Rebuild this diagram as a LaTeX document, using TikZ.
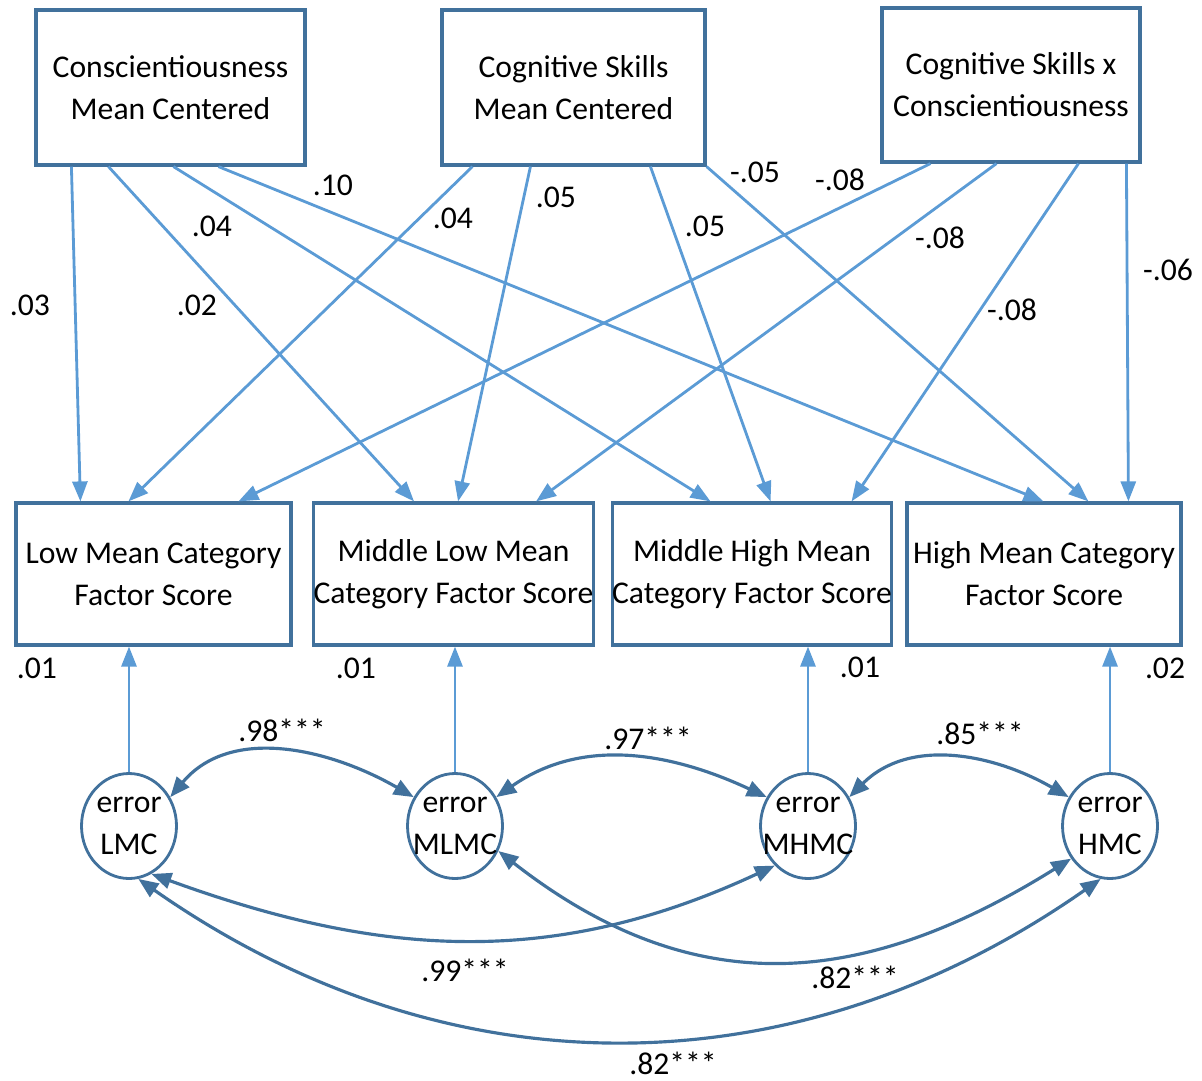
\documentclass[tikz,border=0pt]{standalone}
\usepackage{fontspec}
\setmainfont{Carlito}
\usetikzlibrary{arrows.meta, shapes.geometric}
\definecolor{pathblue}{RGB}{91,155,213}
\definecolor{edgeblue}{RGB}{65,113,156}

\begin{document}
\begin{tikzpicture}[
	box/.style={draw=edgeblue, line width=0.9pt, rectangle, align=center, inner sep=0pt, font=\fontsize{9}{12}\selectfont},
	err/.style={draw=edgeblue, line width=0.8pt, ellipse, minimum width=0.95cm, minimum height=1.05cm, inner sep=0pt},
	errtxt/.style={align=center, inner sep=0pt, font=\fontsize{9}{12}\selectfont},
	reg/.style={color=pathblue, line width=0.8pt, -{Triangle[length=0.2cm, width=0.15cm]}},
	cov/.style={color=edgeblue, line width=0.9pt, {Triangle[length=0.2cm, width=0.16cm]}-{Triangle[length=0.2cm, width=0.16cm]}},
	wt/.style={font=\fontsize{9}{12}\selectfont, inner sep=0pt}
	]
	\useasboundingbox (0, 0) rectangle (12.02, -10.8);
	% Boxes and error terms:
	\node[box, minimum width=2.69cm, minimum height=1.55cm] (A) at (1.705, -0.875) {Conscientiousness\\Mean Centered};
	\node[box, minimum width=2.63cm, minimum height=1.55cm] (B) at (5.735, -0.875) {Cognitive Skills\\Mean Centered};
	\node[box, minimum width=2.58cm, minimum height=1.54cm] (C) at (10.11, -0.85) {Cognitive Skills x\\Conscientiousness};
	\node[box, minimum width=2.75cm, minimum height=1.42cm] (L) at (1.535, -5.74) {Low Mean Category\\Factor Score};
	\node[box, minimum width=2.75cm, minimum height=1.42cm] (ML) at (4.535, -5.74) {Middle Low Mean\\Category Factor Score};
	\node[box, minimum width=2.74cm, minimum height=1.42cm] (MH) at (7.52, -5.74) {Middle High Mean\\Category Factor Score};
	\node[box, minimum width=2.74cm, minimum height=1.42cm] (H) at (10.44, -5.74) {High Mean Category\\Factor Score};
	\node[err, label={[errtxt]center:error\\LMC}] (eL) at (1.29, -8.26) {};
	\node[err, label={[errtxt]center:error\\MLMC}] (eML) at (4.55, -8.26) {};
	\node[err, label={[errtxt]center:error\\MHMC}] (eMH) at (8.08, -8.26) {};
	\node[err, label={[errtxt]center:error\\HMC}] (eH) at (11.10, -8.26) {};
	% Paths:
	\draw[reg] ([xshift=0.37cm]A.south west) -- ([xshift=0.66cm]L.north west);
	\draw[reg] ([xshift=0.74cm]A.south west) -- ([xshift=1.02cm]ML.north west);
	\draw[reg] ([xshift=1.39cm]A.south west) -- ([xshift=1.00cm]MH.north west);
	\draw[reg] ([xshift=1.84cm]A.south west) -- ([xshift=1.38cm]H.north west);
	\draw[reg] ([xshift=0.32cm]B.south west) -- ([xshift=1.14cm]L.north west);
	\draw[reg] ([xshift=0.90cm]B.south west) -- ([xshift=1.46cm]ML.north west);
	\draw[reg] ([xshift=2.10cm]B.south west) -- ([xshift=1.60cm]MH.north west);
	\draw[reg] (B.south east) -- ([xshift=1.83cm]H.north west);
	\draw[reg] ([xshift=0.50cm]C.south west) -- ([xshift=2.24cm]L.north west);
	\draw[reg] ([xshift=1.16cm]C.south west) -- ([xshift=2.24cm]ML.north west);
	\draw[reg] ([xshift=1.98cm]C.south west) -- ([xshift=2.41cm]MH.north west);
	\draw[reg] ([xshift=2.46cm]C.south west) -- ([xshift=2.23cm]H.north west);
	\draw[reg] (eL.north) -- (eL.north |- L.south);
	\draw[reg] (eML.north) -- (eML.north |- ML.south);
	\draw[reg] (eMH.north) -- (eMH.north |- MH.south);
	\draw[reg] (eH.north) -- (eH.north |- H.south);
	% Covariances:
	\draw[cov] (eL.35) to[out=50, in=150] (eML.145);
	\draw[cov] (eML.35) to[out=35, in=155] (eMH.145);
	\draw[cov] (eMH.35) to[out=45, in=150] (eH.145);
	\draw[cov] (eL.-65) to[out=-20, in=-155] (eMH.-130);
	\draw[cov] (eML.-30) to[out=-38, in=-148, looseness=1.1] (eH.-140);
	\draw[cov] (eL.-80) to[out=-35, in=-145] (eH.-100);
	% Weights:
	\node[wt] (w1) at (0.30, -3.05) {.03};
	\node[wt] (w2) at (1.97, -3.05) {.02};
	\node[wt] (w3) at (2.12, -2.26) {.04};
	\node[wt] (w4) at (3.33, -1.85) {.10};
	\node[wt] (w5) at (4.53, -2.18) {.04};
	\node[wt] (w6) at (5.56, -1.97) {.05};
	\node[wt] (w7) at (7.05, -2.26) {.05};
	\node[wt] (w8) at (7.55, -1.72) {-.05};
	\node[wt] (w9) at (8.40, -1.80) {-.08};
	\node[wt] (w10) at (9.40, -2.38) {-.08};
	\node[wt] (w11) at (10.12, -3.10) {-.08};
	\node[wt] (w12) at (11.68, -2.70) {-.06};
	\node[wt] (r1) at (0.37, -6.68) {.01};
	\node[wt] (r2) at (3.56, -6.68) {.01};
	\node[wt] (r3) at (8.60, -6.67) {.01};
	\node[wt] (r4) at (11.65, -6.68) {.02};
	\node[wt] (c1) at (2.82, -7.30) {.98***};
	\node[wt] (c2) at (6.48, -7.38) {.97***};
	\node[wt] (c3) at (9.80, -7.33) {.85***};
	\node[wt] (c4) at (4.65, -9.70) {.99***};
	\node[wt] (c5) at (8.55, -9.77) {.82***};
	\node[wt] (c6) at (6.73, -10.63) {.82***};
\end{tikzpicture}
\end{document}
